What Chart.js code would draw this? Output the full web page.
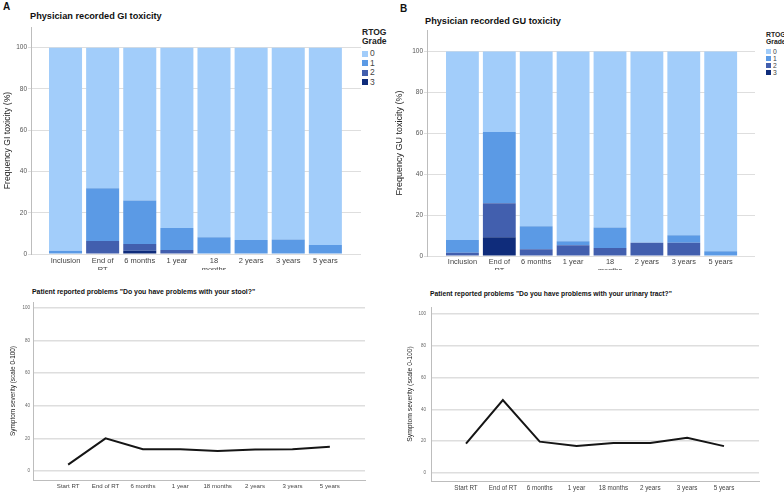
<!DOCTYPE html>
<html>
<head>
<meta charset="utf-8">
<script src="https://cdn.jsdelivr.net/npm/chart.js@4.4.0/dist/chart.umd.min.js"></script>
<style>
body{margin:0;background:#fff;font-family:"Liberation Sans",Arial,sans-serif;}
#wrap{position:relative;width:784px;height:492px;overflow:hidden;}
canvas{position:absolute;}
.txt{position:absolute;white-space:nowrap;color:#111;line-height:1;}
.b{font-weight:bold;}
.leg{position:absolute;line-height:1;color:#444;}
.leg .sw{display:inline-block;vertical-align:middle;margin-right:2px;}
</style>
</head>
<body>
<div id="wrap">
  <div class="txt b" style="left:3px;top:2px;font-size:10px;">A</div>
  <div class="txt b" style="left:30px;top:12px;font-size:9.2px;">Physician recorded GI toxicity</div>
  <div class="txt b" style="left:400px;top:4px;font-size:10px;">B</div>
  <div class="txt b" style="left:425px;top:17px;font-size:9.2px;">Physician recorded GU toxicity</div>
  <div class="txt b" style="left:32px;top:289px;font-size:6.9px;">Patient reported problems "Do you have problems with your stool?"</div>
  <div class="txt b" style="left:430px;top:291px;font-size:6.75px;">Patient reported problems "Do you have problems with your urinary tract?"</div>
  <div class="leg" id="legA" style="left:362px;top:28px;font-size:8.5px;"></div>
  <div class="leg" id="legB" style="left:766px;top:32px;font-size:6.8px;"></div>
  <canvas id="giChart" width="392" height="270" style="left:0;top:0;"></canvas>
  <canvas id="guChart" width="392" height="270" style="left:392px;top:0;"></canvas>
  <canvas id="stoolChart" width="392" height="222" style="left:0;top:270px;"></canvas>
  <canvas id="urinaryChart" width="392" height="222" style="left:392px;top:270px;"></canvas>
</div>
<script>
// categories
const barLabels = ['Inclusion',['End of','RT'],'6 months','1 year',['18','months'],'2 years','3 years','5 years'];
const lineLabels = ['Start RT','End of RT','6 months','1 year','18 months','2 years','3 years','5 years'];
const grades = ['0','1','2','3'];
const gradeColors = ['#a2cdfa','#5b9ae5','#425fae','#0f2c7b'];
const yTicks = [0,20,40,60,80,100];

// physician recorded GI toxicity (%), per RTOG grade
const giGrade0 = [98.4,68.1,74.1,87.4,91.9,93.2,93.0,95.6];
const giGrade1 = [1.6,25.6,21.0,10.7,8.1,6.8,7.0,4.4];
const giGrade2 = [0,6.3,3.3,1.9,0,0,0,0];
const giGrade3 = [0,0,1.6,0,0,0,0,0];

// physician recorded GU toxicity (%), per RTOG grade
const guGrade0 = [92.2,39.4,85.5,92.8,86.1,93.5,89.9,97.7];
const guGrade1 = [6.2,34.8,11.2,2.0,10.0,0,3.6,2.3];
const guGrade2 = [1.6,16.6,3.3,5.2,3.9,6.5,6.5,0];
const guGrade3 = [0,9.2,0,0,0,0,0,0];

// patient reported symptom severity (0-100)
const stoolSeverity = [3.9,20.0,13.4,13.4,12.3,13.2,13.4,14.8];
const urinarySeverity = [18.4,45.8,19.7,16.9,18.8,18.8,22.2,16.9];

const gridColor = '#dedede';
const axisColor = '#bdbdbd';

function pts(arr){ return arr.map((v,i)=>({x:i,y:v})); }

function catTicks(scale){ scale.ticks = lineLabels.map((l,i)=>({value:i})); }

function makeBar(id, series, yTitle, box){
    // series is [grade0, grade1, grade2, grade3]; stack from grade 3 at bottom
    const datasets = [3,2,1,0].map(g=>({
        label: grades[g],
        data: pts(series[g]),
        backgroundColor: gradeColors[g],
        borderWidth: 0,
        barPercentage: 0.89,
        categoryPercentage: 1
    }));
    new Chart(document.getElementById(id),{
        type:'bar',
        data:{ datasets: datasets },
        options:{
            responsive:false, animation:false, devicePixelRatio:1,
            layout:{ padding:{ top:box.top, right:392-box.right, left:0, bottom:0 } },
            plugins:{ legend:{display:false}, tooltip:{enabled:false} },
            scales:{
                x:{
                    type:'linear', stacked:true, offset:false, min:box.xMin, max:box.xMax,
                    afterBuildTicks: catTicks,
                    afterFit: s=>{ s.height = 270-box.bottom; },
                    grid:{display:false, drawTicks:false}, border:{display:false},
                    ticks:{ callback:(v,i)=>barLabels[i], color:'#444', font:{size:box.xFont}, padding:2, maxRotation:0, autoSkip:false }
                },
                y:{
                    stacked:true, min:0, max:box.yMax,
                    afterBuildTicks: s=>{ s.ticks = yTicks.map(v=>({value:v})); },
                    afterFit: s=>{ s.width = box.left; },
                    grid:{ color:gridColor, tickLength:3 },
                    border:{ color:axisColor },
                    ticks:{ color:'#555', font:{size:6.5}, padding:1 },
                    title:{ display:true, text:yTitle, color:'#222', font:{size:box.titleSize}, padding:{top:box.titlePad,bottom:0} }
                }
            }
        }
    });
}

function makeLine(id, values, box){
    new Chart(document.getElementById(id),{
        type:'line',
        data:{ datasets:[{ data: pts(values), borderColor:'#151515', borderWidth:2, pointRadius:0, tension:0, fill:false }] },
        options:{
            responsive:false, animation:false, devicePixelRatio:1,
            layout:{ padding:{ top:box.top, right:392-box.right, left:0, bottom:0 } },
            plugins:{ legend:{display:false}, tooltip:{enabled:false} },
            scales:{
                x:{
                    type:'linear', offset:false, min:box.xMin, max:box.xMax,
                    afterBuildTicks: catTicks,
                    afterFit: s=>{ s.height = 222-box.bottom; },
                    grid:{display:false, drawTicks:false}, border:{display:true, color:axisColor},
                    ticks:{ callback:(v,i)=>lineLabels[i], color:'#444', font:{size:box.xFont}, padding:3, maxRotation:0, autoSkip:false }
                },
                y:{
                    min:box.yMin, max:box.yMax,
                    afterBuildTicks: s=>{ s.ticks = yTicks.map(v=>({value:v})); },
                    afterFit: s=>{ s.width = box.left; },
                    grid:{ color:gridColor, lineWidth:1.5, drawTicks:false },
                    border:{ color:axisColor },
                    ticks:{ color:'#666', font:{size:4.5}, padding:box.tickPad },
                    title:{ display:true, text:'Symptom severity (scale 0-100)', color:'#222', font:{size:box.titleSize}, padding:{top:box.titlePad,bottom:0} }
                }
            }
        }
    });
}

function makeLegend(id, sw){
    const el = document.getElementById(id);
    let html = '<div style="font-weight:bold;color:#222;">RTOG<br>Grade</div><div style="height:'+sw.gap+'px"></div>';
    grades.forEach((g,i)=>{
        html += '<div style="height:'+sw.row+'px;"><span class="sw" style="width:'+sw.w+'px;height:'+sw.h+'px;background:'+gradeColors[i]+'"></span>'+g+'</div>';
    });
    el.innerHTML = html;
}

makeBar('giChart',[giGrade0,giGrade1,giGrade2,giGrade3],'Frequency GI toxicity (%)',
    {left:31,right:361,top:27,bottom:254,yMax:110,xMin:-0.93,xMax:7.96,xFont:7.5,titleSize:8.7,titlePad:2});
makeBar('guChart',[guGrade0,guGrade1,guGrade2,guGrade3],'Frequency GU toxicity (%)',
    {left:35,right:363,top:30,bottom:256,yMax:110.5,xMin:-0.96,xMax:7.93,xFont:7.4,titleSize:9,titlePad:2});
makeLine('stoolChart',stoolSeverity,
    {left:33,right:365,top:32,bottom:210,yMin:-5.5,yMax:103.5,xMin:-0.94,xMax:7.94,xFont:6.1,titleSize:6.4,titlePad:9,tickPad:3});
makeLine('urinaryChart',urinarySeverity,
    {left:39,right:367,top:37,bottom:211,yMin:-5,yMax:104.2,xMin:-0.95,xMax:7.95,xFont:6.3,titleSize:6.8,titlePad:14,tickPad:5});
makeLegend('legA',{gap:4,row:9.5,w:6,h:6});
makeLegend('legB',{gap:3,row:7,w:5,h:5});
</script>
</body>
</html>
